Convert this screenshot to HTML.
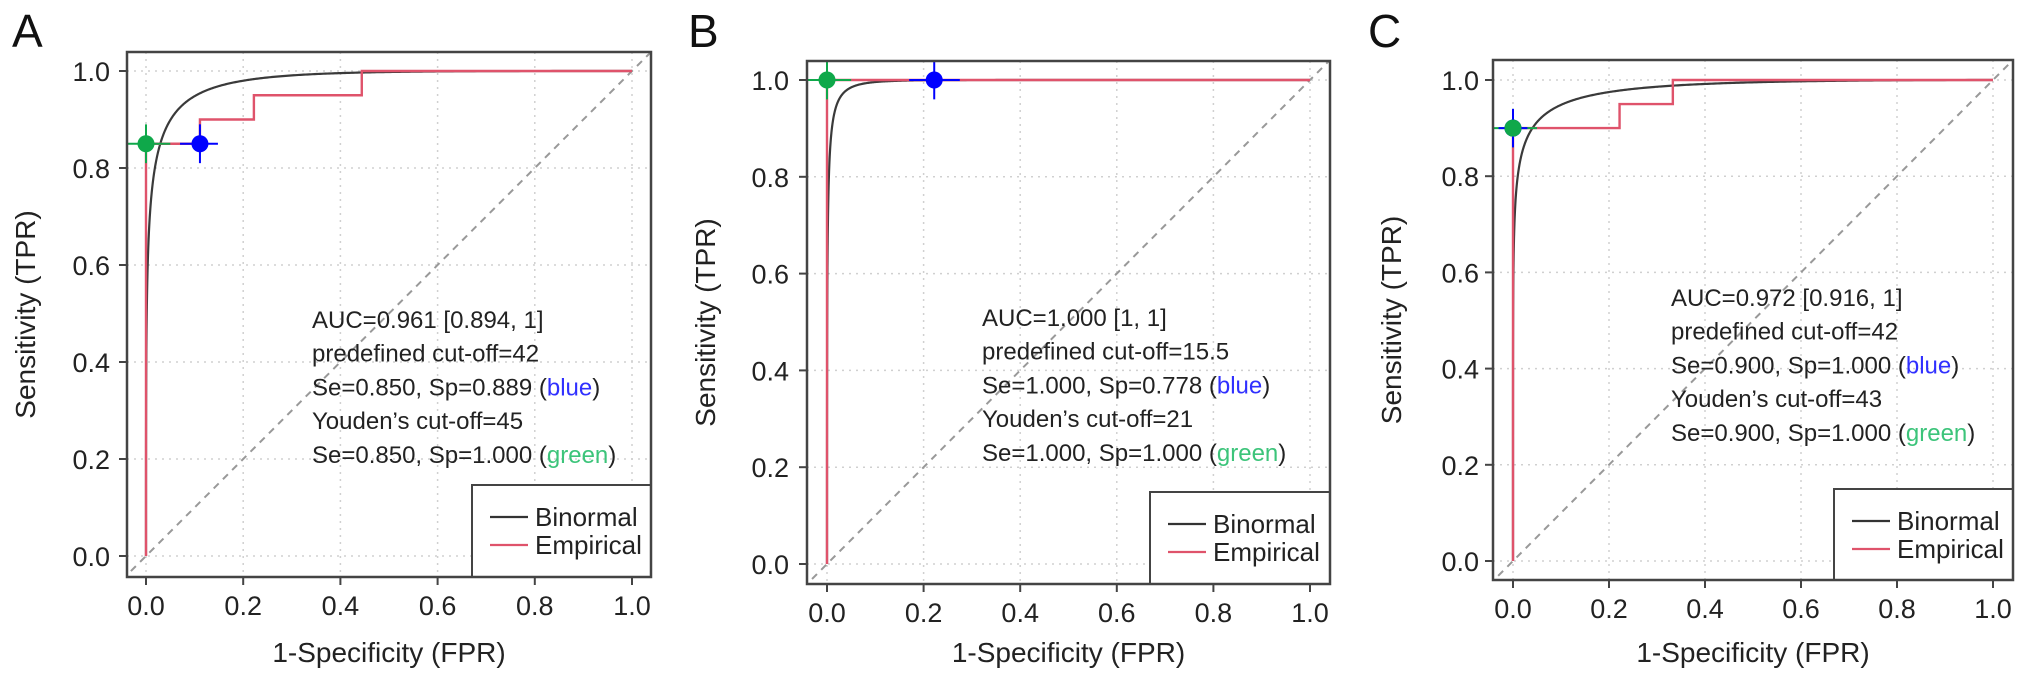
<!DOCTYPE html>
<html><head><meta charset="utf-8"><style>
html,body{margin:0;padding:0;background:#fff;}
svg{display:block;font-family:"Liberation Sans",Arial,sans-serif;}
</style></head><body>
<svg id="fig" width="2032" height="679" viewBox="0 0 2032 679"></svg>
<script>
// ---- data ----
const panelLabels = ['A','B','C'];
const tickValues = [0, 0.2, 0.4, 0.6, 0.8, 1.0];
const tickLabels = ['0.0','0.2','0.4','0.6','0.8','1.0'];
const binormalA = [2.87, 4.3, 2.59];      // binormal intercept a per panel
const binormalB = [0.97, 1.3, 0.75];      // binormal slope b per panel
const empFprA = [0, 0, 0.111, 0.111, 0.222, 0.222, 0.444, 0.444, 1];
const empTprA = [0, 0.85, 0.85, 0.9, 0.9, 0.95, 0.95, 1, 1];
const empFprB = [0, 0, 1];
const empTprB = [0, 1, 1];
const empFprC = [0, 0, 0.222, 0.222, 0.333, 0.333, 1];
const empTprC = [0, 0.9, 0.9, 0.95, 0.95, 1, 1];
const bluePt = [[0.111,0.85],[0.222,1.0],[0.0,0.9]];
const blueErrX = [[0.07,0.148],[0.17,0.275],[-0.03,0.03]];
const blueErrY = [[0.81,0.89],[0.96,1.04],[0.86,0.94]];
const greenPt = [[0,0.85],[0,1.0],[0,0.9]];
const greenErrX = [[-0.05,0.05],[-0.05,0.05],[-0.05,0.05]];
const greenErrY = [[0.81,0.89],[0.96,1.04],[0.86,0.94]];
const annotA = ['AUC=0.961 [0.894, 1]','predefined cut-off=42','Se=0.850, Sp=0.889','Youden’s cut-off=45','Se=0.850, Sp=1.000'];
const annotB = ['AUC=1.000 [1, 1]','predefined cut-off=15.5','Se=1.000, Sp=0.778','Youden’s cut-off=21','Se=1.000, Sp=1.000'];
const annotC = ['AUC=0.972 [0.916, 1]','predefined cut-off=42','Se=0.900, Sp=1.000','Youden’s cut-off=43','Se=0.900, Sp=1.000'];

// ---- layout ----
const layout = [
 {x0:146,x1:632,y0:556,y1:71,bl:127,bt:52,br:651,bb:577,tx:312,ty:320,lgx:472,lgy:485,lbx:12,ytr:-17},
 {x0:827,x1:1310,y0:564,y1:80,bl:807,bt:61,br:1330,bb:584,tx:982,ty:318,lgx:1150,lgy:492,lbx:688,ytr:-18},
 {x0:1513,x1:1993,y0:561,y1:80,bl:1493,bt:60,br:2013,bb:580,tx:1671,ty:298,lgx:1834,lgy:489,lbx:1368,ytr:-14}
];
const emps = [[empFprA,empTprA],[empFprB,empTprB],[empFprC,empTprC]];
const annots = [annotA,annotB,annotC];
const NS='http://www.w3.org/2000/svg';
const svg=document.getElementById('fig');
function mk(tag,attrs,parent){const e=document.createElementNS(NS,tag);for(const k in attrs)e.setAttribute(k,attrs[k]);(parent||svg).appendChild(e);return e;}
function erf(x){const t=1/(1+0.3275911*Math.abs(x));const y=1-(((((1.061405429*t-1.453152027)*t)+1.421413741)*t-0.284496736)*t+0.254829592)*t*Math.exp(-x*x);return x>=0?y:-y;}
function pnorm(x){return 0.5*(1+erf(x/Math.SQRT2));}
function qnorm(p){let lo=-10,hi=10;for(let i=0;i<80;i++){const m=(lo+hi)/2;if(pnorm(m)<p)lo=m;else hi=m;}return (lo+hi)/2;}

layout.forEach((L,i)=>{
 const sx=v=>L.x0+v*(L.x1-L.x0);
 const sy=v=>L.y0+v*(L.y1-L.y0);
 const g=mk('g',{});
 
 
 const cid='clip'+i;
 const cp=mk('clipPath',{id:cid},g);mk('rect',{x:L.bl,y:L.bt,width:L.br-L.bl,height:L.bb-L.bt},cp);
 const lab=mk('text',{x:L.lbx,y:47,'font-size':46,fill:'#111'},g);lab.textContent=panelLabels[i];
 
 tickValues.forEach(v=>{
  const gx=mk('line',{x1:sx(v),x2:sx(v),y1:L.bt,y2:L.bb,stroke:'#d0d0d0','stroke-width':1.5,'stroke-dasharray':'2 5'},g);
  
  const gy=mk('line',{x1:L.bl,x2:L.br,y1:sy(v),y2:sy(v),stroke:'#d0d0d0','stroke-width':1.5,'stroke-dasharray':'2 5'},g);
  
 });
 const cg=mk('g',{'clip-path':'url(#'+cid+')'},g);
 const dg=mk('line',{x1:sx(-0.05),y1:sy(-0.05),x2:sx(1.05),y2:sy(1.05),stroke:'#999','stroke-width':2,'stroke-dasharray':'7 6'},cg);
 
 let pts=[];
 for(let k=0;k<=400;k++){const f=Math.pow(k/400,3);const fp=Math.max(f,1e-7);const t=pnorm(binormalA[i]+binormalB[i]*qnorm(fp));pts.push(sx(f).toFixed(2)+','+sy(k===0?0:t).toFixed(2));}
 const bn=mk('polyline',{points:pts.join(' '),fill:'none',stroke:'#3a3a3a','stroke-width':2.2},cg);
 
 const [ef,et]=emps[i];
 const ep=mk('polyline',{points:ef.map((f,k)=>sx(f)+','+sy(et[k])).join(' '),fill:'none',stroke:'#df536b','stroke-width':2.4},cg);
 
 [[greenPt,greenErrX,greenErrY,'#0fa84a','youden-point'],[bluePt,blueErrX,blueErrY,'#0000ff','predefined-point']].forEach(([P,EX,EY,c,nm])=>{
  const [px,py]=P[i];
  const gp=mk('g',{},cg);
  mk('line',{x1:sx(EX[i][0]),x2:sx(EX[i][1]),y1:sy(py),y2:sy(py),stroke:c,'stroke-width':2},gp);
  mk('line',{x1:sx(px),x2:sx(px),y1:sy(EY[i][0]),y2:sy(EY[i][1]),stroke:c,'stroke-width':2},gp);
  mk('circle',{cx:sx(px),cy:sy(py),r:8.5,fill:c},gp);
 });
 if(i===2){const gp=mk('g',{},cg);mk('circle',{cx:sx(greenPt[2][0]),cy:sy(greenPt[2][1]),r:8.5,fill:'#0fa84a'},gp);}
 const an=annots[i];
 an.forEach((s,k)=>{
  const t=mk('text',{x:L.tx,y:L.ty+k*33.7+8,'font-size':24,fill:'#222'},g);
  
  t.appendChild(document.createTextNode(s));
  if(k===2||k===4){
   t.appendChild(document.createTextNode(' ('));
   const ts=mk('tspan',{fill:k===2?'#3030ff':'#3cc47a'},t);ts.textContent=k===2?'blue':'green';
   t.appendChild(document.createTextNode(')'));
  }
 });
 const lg=mk('g',{},g);
 mk('rect',{x:L.lgx,y:L.lgy,width:L.br-L.lgx,height:L.bb-L.lgy,fill:'#fff',stroke:'#444','stroke-width':2},lg);
 [['Binormal','#333'],['Empirical','#df536b']].forEach(([nm,c],k)=>{
  const yy=L.lgy+32+k*28;
  mk('line',{x1:L.lgx+18,x2:L.lgx+56,y1:yy,y2:yy,stroke:c,'stroke-width':2.2},lg);
  const t=mk('text',{x:L.lgx+63,y:yy+9,'font-size':26,fill:'#222'},lg);t.textContent=nm;
  
 });
 const bx=mk('rect',{x:L.bl,y:L.bt,width:L.br-L.bl,height:L.bb-L.bt,fill:'none',stroke:'#444','stroke-width':2.5},g);
 
 tickValues.forEach((v,k)=>{
  mk('line',{x1:sx(v),x2:sx(v),y1:L.bb,y2:L.bb+8,stroke:'#444','stroke-width':2},g);
  mk('line',{x1:L.bl,x2:L.bl-8,y1:sy(v),y2:sy(v),stroke:'#444','stroke-width':2},g);
  const xt=mk('text',{x:sx(v),y:L.bb+38,'font-size':27,'text-anchor':'middle',fill:'#222'},g);xt.textContent=tickLabels[k];
  
  const yt=mk('text',{x:L.bl+L.ytr,y:sy(v)+10,'font-size':27,'text-anchor':'end',fill:'#222'},g);yt.textContent=tickLabels[k];
  
 });
 const xtl=mk('text',{x:(L.bl+L.br)/2,y:662,'font-size':28,'text-anchor':'middle',fill:'#222'},g);xtl.textContent='1-Specificity (FPR)';
 
 const ycx=L.bl-92, ycy=(L.bt+L.bb)/2;
 const ytl=mk('text',{x:ycx,y:ycy,'font-size':28,'text-anchor':'middle',fill:'#222',transform:'rotate(-90 '+ycx+' '+ycy+')'},g);ytl.textContent='Sensitivity (TPR)';
 
});
</script>
</body></html>
